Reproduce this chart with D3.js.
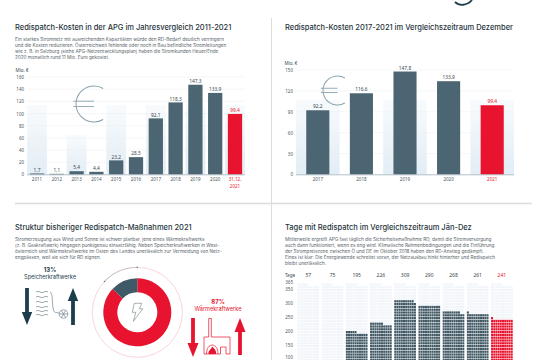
<!DOCTYPE html>
<html>
<head>
<meta charset="utf-8">
<script src="https://cdn.jsdelivr.net/npm/d3@7"></script>
<style>
html, body { margin: 0; padding: 0; background: #fff; overflow: hidden; }
svg { display: block; font-family: Inter, "Noto Sans", sans-serif; }
.axis path, .axis line { stroke: none; }
.axis text { font-size: 4.5px; fill: #46555d; font-family: "Noto Sans", sans-serif; }
</style>
</head>
<body>
<div id="chart"></div>
<script>
// Jahresvergleich 2011-2021
const yearsAll = ["2011", "2012", "2013", "2014", "2015", "2016", "2017", "2018", "2019", "2020", "31.12."];
const costsAll = [1.7, 1.1, 5.4, 4.4, 23.2, 28.5, 92.1, 118.3, 147.3, 133.9, 99.4];
const ticksAll = [0, 20, 40, 60, 80, 100, 120, 140, 160];

// Vergleichszeitraum Dezember
const yearsDec = ["2017", "2018", "2019", "2020", "2021"];
const costsDec = [92.2, 116.6, 147.8, 133.9, 99.4];
const ticksDec = [0, 30, 60, 90, 120, 150];

// Struktur der Massnahmen
const shareNames = ["Wärmekraftwerke", "Speicherkraftwerke"];
const shareValues = [87, 13];

// Tage mit Redispatch
const dayYears = ["2013", "2014", "2015", "2016", "2017", "2018", "2019", "2020", "2021"];
const dayCounts = [57, 75, 195, 226, 309, 290, 268, 261, 241];
const dayTicks = [100, 150, 200, 250, 300, 350, 365];

const title1 = "Redispatch-Kosten in der APG im Jahresvergleich 2011-2021";
const title2 = "Redispatch-Kosten 2017-2021 im Vergleichszeitraum Dezember";
const title3 = "Struktur bisheriger Redispatch-Maßnahmen 2021";
const title4 = "Tage mit Redispatch im Vergleichszeitraum Jän-Dez";

const text1 = [
  "Ein starkes Stromnetz mit ausreichenden Kapazitäten würde den RD-Bedarf deutlich verringern",
  "und die Kosten reduzieren. Österreichweit fehlende oder noch in Bau befindliche Stromleitungen",
  "wie z. B. in Salzburg (siehe APG-Netzentwicklungsplan) haben die Stromkunden Heuer/Ende",
  "2020 monatlich rund 11 Mio. Euro gekostet."
];
const text3 = [
  "Stromerzeugung aus Wind und Sonne ist schwer planbar, jene eines Wärmekraftwerks",
  "(z. B. Gaskraftwerk) hingegen punktgenau einsatzfähig. Neben Speicherkraftwerken in West-",
  "österreich sind Wärmekraftwerke im Osten des Landes unerlässlich zur Vermeidung von Netz-",
  "engpässen, weil sie sich für RD eignen."
];
const text4 = [
  "Mittlerweile ergreift APG fast täglich die Sicherheitsmaßnahme RD, damit die Stromversorgung",
  "auch dann funktioniert, wenn es eng wird. Klimatische Rahmenbedingungen und die Einführung",
  "der Strompreiszone zwischen Ö und DE im Oktober 2018 haben den RD-Anstieg gedämpft.",
  "Eines ist klar: Die Energiewende schreitet voran, der Netzausbau hinkt hinterher und Redispatch",
  "bleibt unerlässlich."
];

const dark = "#4c6572", red = "#e8132f", navy = "#1c3d4c", ink = "#3a474e";
const fmt = d => String(d).replace(".", ",");

const svg = d3.select("#chart").append("svg")
    .attr("width", 540)
    .attr("height", 360);

// band gradient, fades out upwards
const grad = svg.append("defs").append("linearGradient")
    .attr("id", "band").attr("x1", 0).attr("x2", 0).attr("y1", 1).attr("y2", 0);
grad.append("stop").attr("offset", "0%").attr("stop-color", "#e2edf5");
grad.append("stop").attr("offset", "100%").attr("stop-color", "#f8fbfd");

// logo rest at the top edge
svg.append("path").attr("d", "M455,2 C459,6 467,6 472,0")
    .attr("fill", "none").attr("stroke", navy).attr("stroke-width", 1.8);

// dividers
svg.append("line").attr("x1", 271.5).attr("x2", 271.5).attr("y1", 18).attr("y2", 360)
    .attr("stroke", "#dcdcdc").attr("stroke-width", 1);
svg.append("line").attr("x1", 15).attr("x2", 532).attr("y1", 203.5).attr("y2", 203.5)
    .attr("stroke", "#dcdcdc").attr("stroke-width", 1.5);

function heading(x, y, title, lines) {
  svg.append("text").attr("x", x).attr("y", y).text(title)
      .attr("font-size", 7.5).attr("font-weight", 500).attr("fill", "#26343b");
  svg.selectAll(null).data(lines).enter().append("text")
      .attr("x", x).attr("y", (d, i) => y + 10.5 + i * 6.2)
      .attr("font-size", 4.65).attr("fill", "#5b666c")
      .text(d => d);
}
heading(15, 30, title1, text1);
heading(285, 30, title2, []);
heading(15, 230, title3, text3);
heading(285, 230, title4, text4);

function euro(cx, cy, r) {
  const g = svg.append("g").attr("transform", `translate(${cx},${cy})`).attr("fill", "#8ba3af");
  g.append("path").attr("d", d3.arc().innerRadius(r - 0.5).outerRadius(r + 0.5)
      .startAngle(Math.PI * 0.83).endAngle(Math.PI * 2.17)());
  [-r * 0.16, r * 0.14].forEach(dy => {
    g.append("rect").attr("x", -r * 1.15).attr("width", r * 1.15).attr("y", dy - 0.4).attr("height", 0.9);
  });
}

function barChart(opts) {
  const { cats, vals, ticks, left, right, top, bottom, yMax, padding } = opts;
  const x = d3.scaleBand().domain(cats).range([left, right]).paddingInner(padding).paddingOuter(padding / 2);
  const y = d3.scaleLinear().domain([0, yMax]).range([bottom, top]);

  // alternating bands
  svg.append("g").selectAll("rect")
      .data(cats.filter((d, i) => i % 2 === 0)).enter().append("rect")
      .attr("x", d => x(d) - x.step() * padding / 2)
      .attr("width", x.step())
      .attr("y", (d, i) => opts.bandTop(i))
      .attr("height", (d, i) => bottom - opts.bandTop(i))
      .attr("fill", "url(#band)");

  // grid
  svg.append("g").selectAll("line").data(ticks.slice(1)).enter().append("line")
      .attr("x1", left).attr("x2", right)
      .attr("y1", d => y(d)).attr("y2", d => y(d))
      .attr("stroke", "#edf0f2").attr("stroke-width", 0.6);

  svg.append("g").attr("class", "axis").attr("transform", `translate(${left},0)`)
      .call(d3.axisLeft(y).tickValues(ticks).tickSize(0).tickPadding(3));
  svg.append("text").attr("x", left - 11.5).attr("y", top - 5)
      .attr("font-size", 4.5).attr("fill", ink).attr("font-family", "Noto Sans").text("Mio. €");

  svg.append("g").selectAll("rect").data(vals).enter().append("rect")
      .attr("x", (d, i) => x(cats[i]))
      .attr("y", d => y(d))
      .attr("width", x.bandwidth())
      .attr("height", d => bottom - y(d))
      .attr("fill", (d, i) => i === vals.length - 1 ? red : dark);

  svg.append("g").selectAll("text").data(vals).enter().append("text")
      .attr("x", (d, i) => x(cats[i]) + x.bandwidth() / 2)
      .attr("y", d => y(d) - 1.8)
      .attr("text-anchor", "middle")
      .attr("font-size", 4.8).attr("font-family", "Noto Sans")
      .attr("fill", (d, i) => i === vals.length - 1 ? red : ink)
      .text(fmt);

  svg.append("line").attr("x1", left).attr("x2", right).attr("y1", bottom + 0.3).attr("y2", bottom + 0.3)
      .attr("stroke", "#9fb0ba").attr("stroke-width", 0.8);

  const bx = svg.append("g").attr("class", "axis").attr("transform", `translate(0,${bottom})`)
      .call(d3.axisBottom(x).tickSize(0).tickPadding(3));
  bx.selectAll("text").filter((d, i) => i === cats.length - 1).style("fill", red);
}

barChart({
  cats: yearsAll, vals: costsAll, ticks: ticksAll, left: 27.1, right: 244.9, top: 77, bottom: 174.5,
  yMax: 160, padding: 0.28,
  bandTop: i => [105, 135, 105, 105, 105, 105][i]
});
svg.append("text").attr("x", 235).attr("y", 188).attr("text-anchor", "middle")
    .attr("font-size", 4.5).attr("font-family", "Noto Sans").attr("fill", red).text("2021");
euro(94, 104, 18);

barChart({
  cats: yearsDec, vals: costsDec, ticks: ticksDec, left: 296, right: 514, top: 70, bottom: 174.5,
  yMax: 150, padding: 0.47,
  bandTop: i => 100
});
euro(337.5, 90.5, 14.5);

// donut
const donut = svg.append("g").attr("transform", "translate(137.3,312.3)");
const pie = d3.pie().sort(null).value(d => d);
const arcs = pie(shareValues);
donut.selectAll("path").data(arcs).enter().append("path")
    .attr("d", d3.arc().innerRadius(20).outerRadius(34))
    .attr("fill", (d, i) => i === 0 ? red : "#3f5966");
donut.append("circle").attr("r", 45).attr("fill", "none").attr("stroke", "#f4c3cb").attr("stroke-width", 0.7);
donut.append("path").attr("d", d3.arc().innerRadius(44.7).outerRadius(45.3)(arcs[1])).attr("fill", "#aab4ba");
donut.selectAll("circle.dot").data([arcs[1].startAngle, arcs[1].endAngle]).enter().append("circle")
    .attr("class", "dot")
    .attr("cx", d => 45 * Math.sin(d)).attr("cy", d => -45 * Math.cos(d))
    .attr("r", 0.8).attr("fill", "#6c7a82");
donut.append("path").attr("d", "M-3,-9 L4.5,-9 L2,-3.5 L5.5,-3.5 L-4,9 L-1.5,0 L-5,0 Z")
    .attr("fill", "none").attr("stroke", "#55646c").attr("stroke-width", 0.5);

function shareLabel(cx, y, i, color) {
  svg.append("text").attr("x", cx).attr("y", y).attr("text-anchor", "middle")
      .attr("font-size", 6).attr("font-weight", 700).attr("fill", color).text(shareValues[i] + "%");
  svg.append("text").attr("x", cx).attr("y", y + 7).attr("text-anchor", "middle")
      .attr("font-size", 5.6).attr("fill", color).text(shareNames[i]);
}
shareLabel(50, 272, 1, navy);
shareLabel(218, 304, 0, red);

function arrow(cx, y1, y2, color, w, hw, hl) {
  const dir = y2 > y1 ? 1 : -1;
  const s = y2 - dir * hl;
  svg.append("path").attr("fill", color)
      .attr("d", `M${cx - w},${y1}L${cx + w},${y1}L${cx + w},${s}L${cx + hw},${s}L${cx},${y2}L${cx - hw},${s}L${cx - w},${s}Z`);
}
arrow(27, 288, 325, navy, 1.9, 5.2, 13);
arrow(73, 325, 288, navy, 1.9, 5.2, 13);
arrow(193, 318, 357, red, 1.9, 5.5, 14);
arrow(240, 355, 318, red, 1.9, 5.5, 14);

// Speicher icon
const wave = svg.append("g").attr("fill", "none").attr("stroke", "#5d7380").attr("stroke-width", 0.6);
[292, 297, 302, 307, 311, 315].forEach(y => {
  wave.append("path").attr("d", `M36,${y} q2,-1.3 4,0 t4,0 t4,0`);
});
wave.append("path").attr("d", "M50,292 C53,293 52,302 53,308 C54,314 56,312 59,313");
wave.append("circle").attr("cx", 63.5).attr("cy", 314).attr("r", 4.3);
[0, 60, 120].forEach(a => {
  const dx = 4.3 * Math.cos(a * Math.PI / 180), dy = 4.3 * Math.sin(a * Math.PI / 180);
  wave.append("line").attr("x1", 63.5 - dx).attr("x2", 63.5 + dx).attr("y1", 314 - dy).attr("y2", 314 + dy);
});

// Waerme icon
const plant = svg.append("g").attr("fill", "none").attr("stroke", red).attr("stroke-width", 0.7);
plant.append("path").attr("d", "M204,354 V337 H208.7 V318.5 H211.3 V337 H230 V354 H226 V347 H220.5 V354 H204");
plant.append("path").attr("d", "M206.5,354 C206.5,342 218,342 218,354");
svg.append("path").attr("d", "M208.5,354 C208,350 211.5,350 212,346.5 C215,349 216.5,351 216,354 Z").attr("fill", red);

// Tage waffle
const cols = 10;
const dayX = d3.scaleBand().domain(dayYears).range([296.2, 514]).paddingInner(0.09).paddingOuter(0.045);
const dayY = d3.scaleLinear().domain([0, 365]).range([387, 284.8]);
const cell = d3.scaleBand().domain(d3.range(cols)).range([0, dayX.bandwidth()]).padding(0.08);
const rowH = dayY(0) - dayY(cols);

const wg = svg.append("g").selectAll("g").data(dayCounts).enter().append("g")
    .attr("transform", (d, i) => `translate(${dayX(dayYears[i])},0)`);
wg.selectAll("rect").data((d, i) => d3.range(365).map(k => ({ k, on: k < d, last: i === dayCounts.length - 1 })))
    .enter().append("rect")
    .attr("x", d => cell(d.k % cols))
    .attr("y", d => dayY((Math.floor(d.k / cols) + 1) * cols))
    .attr("width", cell.bandwidth())
    .attr("height", rowH * 0.8)
    .attr("fill", d => d.on ? (d.last ? red : "#405864") : "#f1f5f9");

svg.append("g").selectAll("text").data(dayCounts).enter().append("text")
    .attr("x", (d, i) => dayX(dayYears[i]) + dayX.bandwidth() / 2)
    .attr("y", 277)
    .attr("text-anchor", "middle").attr("font-size", 5).attr("font-family", "Noto Sans")
    .attr("fill", (d, i) => i === dayCounts.length - 1 ? red : ink)
    .text(d => d);
svg.append("text").attr("x", 290).attr("y", 277).attr("text-anchor", "middle")
    .attr("font-size", 4.6).attr("font-family", "Noto Sans").attr("fill", ink).text("Tage");

const dayAxis = svg.append("g").attr("class", "axis").attr("transform", "translate(294,0)")
    .call(d3.axisLeft(dayY).tickValues(dayTicks).tickSize(0).tickPadding(1));
dayAxis.selectAll("text").filter(d => d === 365).attr("dy", "-0.3em");
// lowest label sits right at the page edge
dayAxis.selectAll("text").filter(d => d === 100).attr("dy", "-0.2em");
</script>
</body>
</html>
